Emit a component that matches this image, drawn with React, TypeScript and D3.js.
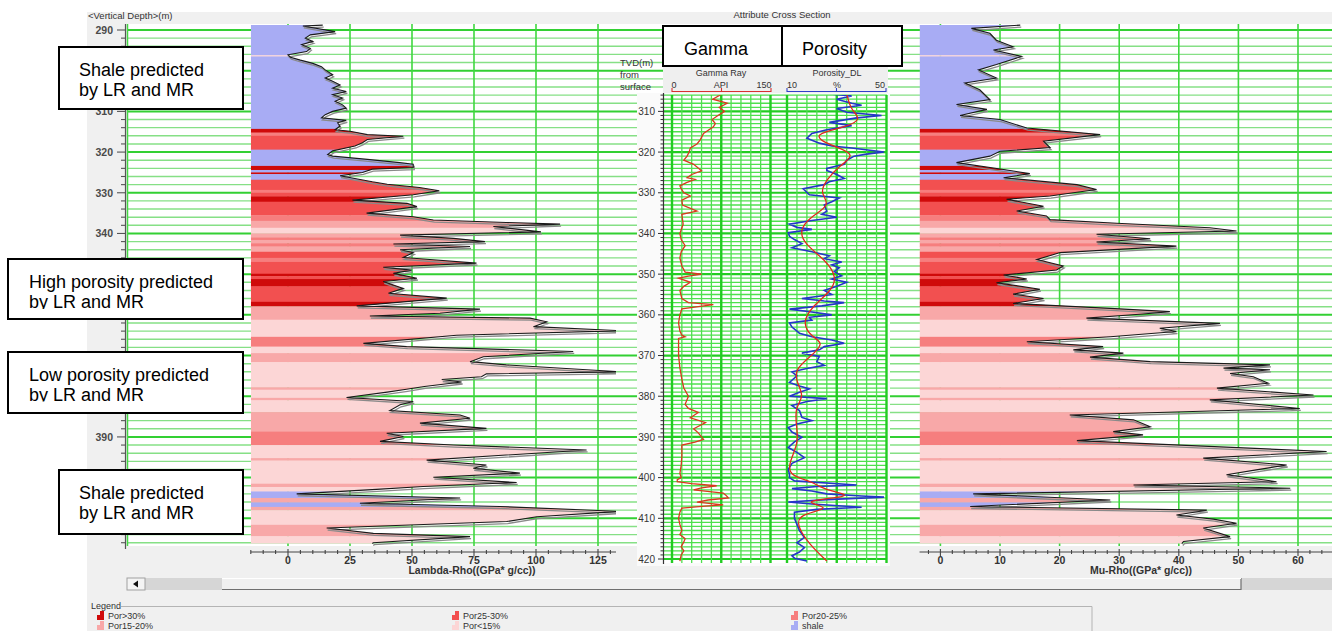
import React from "react";
import * as d3 from "d3";

// ---------------- data ----------------
const faciesNames = ["Por>30%", "Por25-30%", "Por20-25%", "Por15-20%", "Por<15%", "shale"];
const faciesColors = ["#cf0a0a", "#f25050", "#f67e7e", "#f8a8a8", "#fcd6d6", "#a8acf4"];

// [top depth, bottom depth, facies index]
const faciesBands: [number, number, number][] = [
  [288.5, 296.2, 5], [296.2, 296.5, 4], [296.5, 314.3, 5], [314.3, 315.2, 0], [315.2, 316.0, 2],
  [316.0, 319.4, 1], [319.4, 323.4, 5], [323.4, 324.4, 0], [324.4, 325.0, 5], [325.0, 325.4, 0],
  [325.4, 326.8, 5], [326.8, 329.3, 1], [329.3, 330.0, 2], [330.0, 330.9, 1], [330.9, 332.2, 0],
  [332.2, 335.5, 1], [335.5, 336.9, 2], [336.9, 338.6, 3], [338.6, 340.0, 4], [340.0, 341.0, 3],
  [341.0, 341.6, 2], [341.6, 342.4, 3], [342.4, 343.2, 2], [343.2, 344.5, 3], [344.5, 346.0, 1],
  [346.0, 347.0, 2], [347.0, 349.9, 1], [349.9, 350.5, 0], [350.5, 351.2, 1], [351.2, 353.0, 0],
  [353.0, 356.8, 1], [356.8, 357.9, 0], [357.9, 361.2, 3], [361.2, 365.4, 4], [365.4, 367.8, 2],
  [367.8, 369.4, 4], [369.4, 371.6, 3], [371.6, 377.8, 4], [377.8, 378.4, 3], [378.4, 380.4, 4],
  [380.4, 381.0, 3], [381.0, 383.9, 4], [383.9, 388.7, 3], [388.7, 392.0, 2], [392.0, 395.2, 4],
  [395.2, 395.8, 3], [395.8, 401.5, 4], [401.5, 402.3, 3], [402.3, 403.4, 4], [403.4, 405.0, 5],
  [405.0, 406.1, 3], [406.1, 407.2, 5], [407.2, 408.0, 3], [408.0, 411.6, 4], [411.6, 414.4, 3],
  [414.4, 416.5, 4],
];

// Lambda-Rho [depth m, GPa*g/cc]
const lambdaRho: [number, number][] = [
  [288.8, 14], [289, 6], [290.4, 19], [291.2, 9], [292, 7], [292.8, 10], [293.6, 5.5], [294.5, 9],
  [295.3, 7.5], [296.1, 0], [296.7, 1], [297.4, 5], [298.2, 10], [299, 13.5], [299.8, 15], [301, 18],
  [301.8, 15], [302.6, 18], [303.5, 21], [304.3, 18], [305.1, 23.5], [305.9, 18], [306.7, 22],
  [307.5, 19], [308.4, 22], [309.2, 23.5], [310, 18], [310.8, 15], [311.6, 13.5], [312.2, 23.5],
  [312.8, 20], [313.6, 21], [314.5, 19], [314.9, 25], [315.7, 32], [316.1, 46.5], [316.9, 32],
  [317.7, 30], [318.5, 27], [319.7, 18], [320.6, 16], [321, 18], [321.8, 32], [322.6, 45], [323, 50.5],
  [323.8, 50.5], [324.2, 34], [325, 30], [325.8, 21], [326.6, 28], [327.3, 34], [327.9, 40],
  [328.7, 53], [329.5, 61], [330.5, 50.5], [331.8, 26], [332.6, 48], [333.4, 52], [335, 31.7],
  [335.9, 50.5], [336.7, 58.6], [337.3, 88], [337.7, 109.7], [338.3, 82.8], [339.6, 102], [340.4, 45.2],
  [341.2, 66.7], [342, 79.4], [342.6, 42.5], [343.2, 73.4], [344, 45.2], [344.7, 50.5], [345.9, 46.5],
  [347.3, 76], [348.3, 38.4], [349, 49.8], [349.8, 42.5], [351, 52], [351.8, 38.4], [353.5, 46.5],
  [354.7, 40.5], [355.9, 64], [357.8, 27.7], [358.6, 77.4], [359.6, 61.3], [360.3, 33], [360.8, 97.6],
  [361.7, 104.3], [362.9, 99], [363.9, 134], [365, 68], [367, 30.4], [367.8, 47.8], [369, 115],
  [370.3, 78.8], [371.5, 73.4], [372.3, 88], [374, 134], [374.5, 80], [375.2, 78], [375.9, 62],
  [376.5, 70], [377.6, 55], [378.3, 47.8], [379, 40], [380.3, 23.6], [381.3, 50.5], [382.1, 45.2],
  [383.5, 41.1], [384.6, 69.4], [385.4, 73.4], [386.6, 53.2], [387.9, 80], [389.1, 39.8], [389.9, 46.5],
  [391.1, 37.1], [392, 66.7], [393.2, 120.4], [395.7, 55.9], [396.9, 80], [397.7, 74.7], [398.9, 93.5],
  [399.9, 58.6], [401.2, 92.2], [402.2, 54.5], [402.9, 35.7], [404, 3.5], [405, 69.4], [406.3, 29],
  [407.1, 85.5], [408.3, 134], [409.6, 100.3], [410.8, 88.2], [412.4, 15.6], [413.7, 34.4],
  [414.5, 73.4], [416, 34.4], [416.2, 34],
];

// Mu-Rho [depth m, GPa*g/cc]
const muRho: [number, number][] = [
  [288.8, 13.4], [289.6, 5.2], [290.8, 8.3], [292.5, 9.4], [294.1, 12.2], [294.9, 8.9], [296.5, 13.6],
  [298.5, 9.4], [299.8, 6.4], [301.8, 9.4], [303, 4.1], [304.7, 6.6], [307.1, 8.3], [308.3, 2.7],
  [309.5, 7.8], [311, 3.3], [312, 10], [314.1, 14.5], [315.7, 26.8], [317.3, 17.3], [318.9, 18.4],
  [319.8, 10], [321, 8.3], [322.6, 2.7], [324.3, 10.6], [325.3, 15], [326.3, 10.6], [328, 22.9],
  [329.2, 26.2], [330.8, 18.4], [331.6, 11.1], [333.3, 17.3], [334.5, 12.8], [335.7, 17.8],
  [336.6, 18.4], [337.5, 29.6], [338.6, 45.2], [339.4, 49.7], [340.2, 26.2], [341.3, 35.2],
  [342.1, 26.2], [343.1, 39.6], [344.7, 20.1], [346.4, 16.2], [348, 20.6], [349, 19.5], [350.2, 10.6],
  [351.2, 14.5], [352.1, 9.4], [353.7, 16.7], [354.9, 12.2], [356, 17.3], [357.2, 12.2], [358.4, 28.5],
  [359.2, 38.5], [359.8, 34], [360.8, 24.5], [362.1, 46.9], [363.3, 36.8], [364.1, 39.6], [365.4, 28.5],
  [366.6, 14.5], [367.8, 27.3], [368.6, 22.3], [369.4, 30.7], [370.4, 25.1], [371.5, 35.2],
  [372.3, 55.3], [373.1, 47.5], [373.5, 55.3], [374.4, 48.6], [375.2, 52.5], [376.8, 55], [378, 46.4],
  [379.7, 62.6], [380.9, 45.2], [383, 60.3], [384.6, 21.7], [385.8, 32.4], [387.5, 35.2], [388.7, 29],
  [389.5, 34], [390.9, 22.9], [393.6, 64.8], [395.2, 44.1], [396.9, 58.1], [398.1, 53], [399.3, 48],
  [401, 56.4], [401.8, 32.4], [402.6, 58.7], [404, 5.5], [405.5, 28.5], [407.1, 5], [408, 44.7],
  [409.2, 39.6], [410.2, 45.8], [411.2, 49.7], [412.4, 44.1], [414.5, 48.6], [415.7, 40.8], [416.2, 40.5],
];

// Gamma Ray [depth m, API]
const gammaRay: [number, number][] = [
  [305.5, 60], [306, 73], [307, 62], [308, 84], [309, 72], [310, 80], [311, 70], [312, 61], [313, 66],
  [313.8, 63], [315.4, 48], [317, 43], [318, 38], [319, 28], [320, 26], [321, 23], [322, 18], [323, 33],
  [324.6, 45], [325.5, 30], [326.3, 23], [326.7, 35], [327.5, 22], [328.3, 12], [329, 14], [330, 18],
  [330.8, 28], [331.8, 15], [333, 16], [334.5, 38], [335.3, 15], [336.5, 16], [337.7, 17], [340, 12],
  [341.5, 14], [343, 20], [344.5, 14], [346, 12], [348, 15], [349.5, 20], [350, 45], [350.5, 25],
  [351, 10], [352, 28], [353, 18], [354, 12], [356, 15], [357, 25], [357.5, 63], [358, 40], [358.5, 15],
  [360, 12], [362, 10], [364, 12], [365, 15], [365.4, 20], [365.8, 10], [367, 10], [370, 10], [373, 12],
  [375.8, 15], [378, 18], [380, 25], [382, 20], [383, 25], [384, 40], [385.3, 28], [386.5, 51], [388, 33],
  [389, 40], [390.6, 48], [391.3, 35], [392, 15], [394.7, 15], [397, 14], [399, 12], [400, 14],
  [400.5, 8], [401, 8], [401.5, 30], [402, 68], [402.5, 45], [403, 33], [403.8, 78], [404.3, 82],
  [405, 86], [405.5, 55], [406, 38], [406.7, 78], [407, 50], [407.5, 15], [408.5, 12], [410, 10],
  [411.5, 12], [413, 15], [414, 12], [415, 20], [415.8, 18], [417, 14], [418, 18], [419, 14], [420.5, 12],
];

// Porosity_DL raw [depth m, %]
const porosityDL: [number, number][] = [
  [305.7, 27], [306.2, 36], [307, 30], [308, 36], [308.5, 40], [309.3, 30], [310.2, 34], [311, 48],
  [311.6, 38], [312.7, 27], [313.5, 36], [314.5, 26], [315.4, 20], [316.6, 18], [317.8, 23], [318.5, 28],
  [319, 36], [320, 49], [320.5, 42], [321, 37], [322, 34], [323, 33], [324, 26], [324.5, 26], [325.5, 30],
  [326.5, 33], [327.3, 27], [328, 25], [329, 16.5], [330.5, 19], [331.3, 31], [332.2, 28], [333, 25],
  [334.5, 26], [335.3, 24], [336, 30], [336.8, 20], [337.7, 11], [338.5, 14], [339, 20], [339.8, 10.5],
  [340.7, 11], [341.5, 13], [342.5, 16], [343.5, 12], [344.5, 20], [345.5, 27], [346.2, 25], [347, 32],
  [347.7, 28], [348.4, 31], [349.4, 29], [350.4, 32], [351.2, 28], [352, 34], [353, 30], [354, 25],
  [355, 28], [356, 16], [356.6, 25], [357, 33], [357.8, 24], [358.6, 11], [359.3, 20], [360, 28],
  [360.6, 19], [361.3, 20], [362, 11], [363, 12], [364, 14], [364.5, 15], [365.4, 20], [366.2, 28],
  [367, 33], [367.8, 25], [368.6, 23], [369.4, 16], [370.2, 23], [371.5, 22], [372.4, 25], [373.2, 18],
  [374, 12], [375, 14], [376.6, 11], [377.5, 15], [378.2, 19], [379, 15], [380, 11], [380.6, 26],
  [381.3, 18], [382.3, 12], [383.5, 15], [385.2, 16], [386, 20], [386.8, 14], [387.7, 10.5], [388.8, 12],
  [390.1, 16], [391.2, 13], [392.6, 10.5], [393.8, 14], [395.1, 17], [396.5, 12], [398, 10.5],
  [399.2, 11], [400, 11], [400.8, 13], [401.8, 38], [402.2, 22], [402.7, 12], [403.3, 20], [404, 26],
  [404.5, 40], [404.8, 49], [405.4, 26], [406, 10.5], [406.5, 20], [407.3, 40], [407.8, 22], [408.5, 13],
  [410, 13], [411.5, 14], [413, 15], [414.7, 17], [416, 14], [417.2, 17], [418.3, 15], [419.2, 12],
  [419.8, 13], [420.5, 18],
];

// Porosity smoothed [depth m, %]
const porositySmooth: [number, number][] = [
  [305.7, 34], [308, 35], [309.6, 36], [312, 40], [313.8, 34], [315.4, 22], [317, 23], [318.6, 29],
  [320.6, 38], [323.4, 31], [326.7, 26], [330, 23], [333, 28], [336, 19], [339.3, 15], [342.6, 17],
  [346.8, 26], [350.8, 30], [354, 28], [358, 20], [362, 16], [365.5, 20], [366.9, 25], [370, 20],
  [373.4, 13], [376.8, 14], [380, 17], [383, 13], [387.9, 14], [391.6, 14.5], [396.1, 11], [399.4, 10.5],
  [401, 20], [402.2, 23], [403.4, 28], [404.6, 38], [405.8, 13], [407.4, 30], [409, 14], [412.3, 14.5],
  [416.4, 19], [420.5, 26],
];

// depth labels that are not hidden under the annotation boxes in the reference
const depthLabels = [290, 310, 320, 330, 340, 390];
const depthTickMarks = [290, 300, 310, 320, 330, 340, 350, 360, 370, 380, 390, 400, 410];
const logDepthLabels = [310, 320, 330, 340, 350, 360, 370, 380, 390, 400, 410, 420];
const lrTicks = [0, 25, 50, 75, 100, 125];
const mrTicks = [0, 10, 20, 30, 40, 50, 60];

const annotationTexts = [
  ["Shale predicted", "by LR and MR"],
  ["High porosity predicted", "by LR and MR"],
  ["Low porosity predicted", "by LR and MR"],
  ["Shale predicted", "by LR and MR"],
];
const annotationBoxes = [
  { x: 59, y: 47, w: 184, h: 62, tx: 79, clip: 200 },
  { x: 8, y: 259, w: 235, h: 60, tx: 29, clip: 50 },
  { x: 8, y: 352, w: 235, h: 61, tx: 29, clip: 49.5 },
  { x: 59, y: 470, w: 184, h: 64, tx: 79, clip: 200 },
];

const FONT = "'Liberation Sans', Arial, sans-serif";

export default function App() {
  const y = d3.scaleLinear().domain([290, 420]).range([30, 559]);
  const xLR = d3.scaleLinear().domain([0, 125]).range([288, 598]);
  const xMR = d3.scaleLinear().domain([0, 60]).range([940.4, 1298]);
  const xGR = d3.scaleLinear().domain([0, 150]).range([672, 770.5]);
  const xPor = d3.scaleLinear().domain([10, 50]).range([787, 886.5]);

  const plotTop = 24;
  const plotBottom = 546;
  const lrLeft = xLR(-15);
  const lrRight = 616;
  const mrLeft = xMR(-3.5);
  const mrRight = 1332;

  const areaLR = d3.area<[number, number]>().y((d) => y(d[0])).x0(lrLeft).x1((d) => xLR(d[1]));
  const areaMR = d3.area<[number, number]>().y((d) => y(d[0])).x0(mrLeft).x1((d) => xMR(d[1]));
  const lineLR = d3.line<[number, number]>().y((d) => y(d[0])).x((d) => xLR(d[1]));
  const lineMR = d3.line<[number, number]>().y((d) => y(d[0])).x((d) => xMR(d[1]));
  const lineGR = d3.line<[number, number]>().y((d) => y(d[0])).x((d) => xGR(d[1]));
  const linePor = d3.line<[number, number]>().y((d) => y(d[0])).x((d) => xPor(d[1]));
  const linePorSmooth = d3
    .line<[number, number]>()
    .y((d) => y(d[0]))
    .x((d) => xPor(d[1]))
    .curve(d3.curveBasis);

  const sideGrid = d3.range(290, 417, 2);
  const logTop = 95;
  const logBottom = 563;
  const logGrid = d3.range(306, 421, 1);
  const grTicks = d3.range(0, 151, 15);
  const porTicks = d3.range(10, 51, 4);

  const bands = (x0: number, x1: number) =>
    faciesBands.map(([t, b, c], i) => (
      <rect
        key={i}
        x={x0}
        width={x1 - x0}
        y={y(t)}
        height={y(b) - y(t) + 0.4}
        fill={faciesColors[c]}
      />
    ));

  const legendCols = [97, 452, 791];
  const legendRows = [611, 621];

  return (
    <svg
      width={1332}
      height={631}
      style={{ position: "absolute", left: 0, top: 0, display: "block" }}
      fontFamily={FONT}
    >
      <defs>
        <clipPath id="lrFill">
          <path d={areaLR(lambdaRho) || ""} />
        </clipPath>
        <clipPath id="mrFill">
          <path d={areaMR(muRho) || ""} />
        </clipPath>
        <clipPath id="lrPanel">
          <rect x={lrLeft - 1} y={plotTop} width={lrRight - lrLeft + 1} height={plotBottom - plotTop} />
        </clipPath>
        <clipPath id="mrPanel">
          <rect x={mrLeft - 1} y={plotTop} width={mrRight - mrLeft + 1} height={plotBottom - plotTop} />
        </clipPath>
        <clipPath id="logPlot">
          <rect x={664} y={logTop} width={223} height={logBottom - logTop} />
        </clipPath>
        {annotationBoxes.map((b, i) => (
          <clipPath id={`annClip${i}`} key={i}>
            <rect x={b.x} y={b.y} width={b.w} height={Math.min(b.h, b.clip)} />
          </clipPath>
        ))}
      </defs>

      {/* backgrounds */}
      <rect x={0} y={0} width={1332} height={631} fill="#ffffff" />
      <rect x={87} y={12} width={1245} height={619} fill="#f0f0f0" />
      <rect x={127} y={plotTop} width={1205} height={plotBottom - plotTop} fill="#ffffff" />

      {/* side grid */}
      {sideGrid.map((d) => (
        <line
          key={d}
          x1={127}
          x2={1332}
          y1={y(d)}
          y2={y(d)}
          stroke={d % 10 === 0 ? "#33d033" : "#86e086"}
          strokeWidth={d % 10 === 0 ? 2 : 1.4}
        />
      ))}
      <line x1={127.5} x2={127.5} y1={plotTop} y2={plotBottom} stroke="#44d844" strokeWidth={1.5} />
      {lrTicks.map((v) => (
        <line key={v} x1={xLR(v)} x2={xLR(v)} y1={plotTop} y2={plotBottom} stroke="#3fd83f" strokeWidth={1.6} />
      ))}
      {mrTicks.map((v) => (
        <line key={v} x1={xMR(v)} x2={xMR(v)} y1={plotTop} y2={plotBottom} stroke="#3fd83f" strokeWidth={1.6} />
      ))}

      {/* Lambda-Rho fill */}
      <g clipPath="url(#lrFill)">{bands(lrLeft, lrRight)}</g>
      <g clipPath="url(#lrPanel)">
        <path d={lineLR(lambdaRho) || ""} fill="none" stroke="#8a8a8a" strokeWidth={1.3} transform="translate(1,2)" />
        <path d={lineLR(lambdaRho) || ""} fill="none" stroke="#1a1a1a" strokeWidth={1.1} />
      </g>

      {/* Mu-Rho fill */}
      <g clipPath="url(#mrFill)">{bands(mrLeft, mrRight)}</g>
      <g clipPath="url(#mrPanel)">
        <path d={lineMR(muRho) || ""} fill="none" stroke="#8a8a8a" strokeWidth={1.3} transform="translate(1,2)" />
        <path d={lineMR(muRho) || ""} fill="none" stroke="#1a1a1a" strokeWidth={1.1} />
      </g>

      {/* middle log image */}
      <rect x={637} y={93} width={253} height={473} fill="#fafafa" />
      <rect x={663} y={66} width={225} height={27} fill="#efefef" />
      <rect x={664} y={logTop} width={223} height={logBottom - logTop} fill="#ffffff" />
      {logGrid.map((d) => (
        <line
          key={d}
          x1={664}
          x2={887}
          y1={y(d)}
          y2={y(d)}
          stroke={d % 10 === 0 ? "#22cc22" : "#4ee04e"}
          strokeWidth={d % 10 === 0 ? 2.2 : 1.3}
        />
      ))}
      {grTicks.map((v) => (
        <line
          key={`g${v}`}
          x1={xGR(v)}
          x2={xGR(v)}
          y1={logTop}
          y2={logBottom}
          stroke={v % 75 === 0 ? "#22cc22" : "#4ee04e"}
          strokeWidth={v % 75 === 0 ? 2.4 : 1.3}
        />
      ))}
      {porTicks.map((v) => (
        <line
          key={`p${v}`}
          x1={xPor(v)}
          x2={xPor(v)}
          y1={logTop}
          y2={logBottom}
          stroke={(v - 10) % 20 === 0 ? "#22cc22" : "#4ee04e"}
          strokeWidth={(v - 10) % 20 === 0 ? 2.4 : 1.3}
        />
      ))}
      <g clipPath="url(#logPlot)">
        <path d={lineGR(gammaRay) || ""} fill="none" stroke="#d9381e" strokeWidth={1.3} />
        <path d={linePor(porosityDL) || ""} fill="none" stroke="#2436c8" strokeWidth={1.6} />
        <path d={linePorSmooth(porositySmooth) || ""} fill="none" stroke="#e0281e" strokeWidth={1.3} />
      </g>
      {/* log depth axis */}
      <line x1={663.5} x2={663.5} y1={logTop - 2} y2={logBottom + 1} stroke="#333" strokeWidth={1.2} />
      {logGrid.map((d) => (
        <line
          key={`lt${d}`}
          x1={d % 10 === 0 ? 658 : 660.5}
          x2={663.5}
          y1={y(d)}
          y2={y(d)}
          stroke="#333"
          strokeWidth={1}
        />
      ))}
      {logDepthLabels.map((d) => (
        <text key={`ll${d}`} x={655} y={y(d) + 3.6} fontSize={10} fill="#333" textAnchor="end">
          {d}
        </text>
      ))}
      {/* log header */}
      <text x={620} y={66} fontSize={9.5} fill="#333">TVD(m)</text>
      <text x={620} y={78} fontSize={9.5} fill="#333">from</text>
      <text x={620} y={90} fontSize={9.5} fill="#333">surface</text>
      <text x={721} y={76} fontSize={9} fill="#333" textAnchor="middle">Gamma Ray</text>
      <text x={674} y={88} fontSize={9} fill="#333" textAnchor="middle">0</text>
      <text x={721} y={88} fontSize={9} fill="#333" textAnchor="middle">API</text>
      <text x={764} y={88} fontSize={9} fill="#333" textAnchor="middle">150</text>
      <path d="M672,88 V91.5 H771 V88 M721.5,88 V91.5" fill="none" stroke="#d83030" strokeWidth={1.1} />
      <text x={837} y={76} fontSize={9} fill="#333" textAnchor="middle">Porosity_DL</text>
      <text x={792} y={88} fontSize={9} fill="#333" textAnchor="middle">10</text>
      <text x={837} y={88} fontSize={9} fill="#333" textAnchor="middle">%</text>
      <text x={880} y={88} fontSize={9} fill="#333" textAnchor="middle">50</text>
      <path d="M787,88 V91.5 H886 V88 M836.5,88 V91.5" fill="none" stroke="#3040c8" strokeWidth={1.1} />

      {/* Gamma / Porosity boxes */}
      <rect x={663} y={26} width={239} height={40} fill="#ffffff" stroke="#000" strokeWidth={2} />
      <line x1={782} x2={782} y1={26} y2={66} stroke="#000" strokeWidth={2} />
      <text x={684} y={55} fontSize={18} fill="#000">Gamma</text>
      <text x={802} y={55} fontSize={18} fill="#000">Porosity</text>

      {/* left depth axis */}
      <line x1={125.5} x2={125.5} y1={plotTop} y2={549} stroke="#555" strokeWidth={1.2} />
      {sideGrid.map((d) => (
        <line
          key={`dt${d}`}
          x1={depthTickMarks.includes(d) ? 117 : 121}
          x2={125.5}
          y1={y(d)}
          y2={y(d)}
          stroke="#555"
          strokeWidth={1.1}
        />
      ))}
      {depthLabels.map((d) => (
        <text
          key={`dl${d}`}
          x={113}
          y={y(d) + 3.8}
          fontSize={10.5}
          fontWeight="bold"
          fill="#4a4a4a"
          textAnchor="end"
        >
          {d}
        </text>
      ))}

      {/* bottom axes */}
      <line x1={lrLeft} x2={lrRight} y1={552} y2={552} stroke="#444" strokeWidth={1.2} />
      {d3.range(-15, 131, 5).map((v) => (
        <line
          key={`lrt${v}`}
          x1={xLR(v)}
          x2={xLR(v)}
          y1={v % 25 === 0 ? 549 : 550}
          y2={v % 25 === 0 ? 556 : 554}
          stroke="#444"
          strokeWidth={1.1}
        />
      ))}
      {lrTicks.map((v) => (
        <text key={`lrl${v}`} x={xLR(v)} y={564} fontSize={10.5} fontWeight="bold" fill="#333" textAnchor="middle">
          {v}
        </text>
      ))}
      <text x={472} y={574} fontSize={10.5} fontWeight="bold" fill="#333" textAnchor="middle">
        Lambda-Rho((GPa* g/cc))
      </text>

      <line x1={mrLeft} x2={mrRight} y1={552} y2={552} stroke="#444" strokeWidth={1.2} />
      {d3.range(-2, 65, 2).map((v) => (
        <line
          key={`mrt${v}`}
          x1={xMR(v)}
          x2={xMR(v)}
          y1={v % 10 === 0 ? 549 : 550}
          y2={v % 10 === 0 ? 556 : 554}
          stroke="#444"
          strokeWidth={1.1}
        />
      ))}
      {mrTicks.map((v) => (
        <text key={`mrl${v}`} x={xMR(v)} y={564} fontSize={10.5} fontWeight="bold" fill="#333" textAnchor="middle">
          {v}
        </text>
      ))}
      <text x={1141} y={574} fontSize={10.5} fontWeight="bold" fill="#333" textAnchor="middle">
        Mu-Rho((GPa* g/cc))
      </text>

      {/* scrollbar */}
      <rect x={145} y={578} width={1187} height={12} fill="#d6d6d6" />
      <rect x={127} y={578} width={18} height={12} fill="#f4f4f4" stroke="#a0a0a0" strokeWidth={1} />
      <path d="M133,584 L138,580.5 L138,587.5 Z" fill="#111" />
      <rect x={222} y={578} width={1019} height={11} fill="#f0f0f0" />
      <line x1={222} x2={1241} y1={589.5} y2={589.5} stroke="#6f6f6f" strokeWidth={1.2} />
      <line x1={1241} x2={1241} y1={578} y2={590} stroke="#6f6f6f" strokeWidth={1.2} />
      <line x1={222} x2={1241} y1={578.5} y2={578.5} stroke="#ffffff" strokeWidth={1} />

      {/* legend */}
      <text x={91} y={609} fontSize={9} fill="#333">Legend</text>
      <line x1={121} x2={1092} y1={606.5} y2={606.5} stroke="#b4b4b4" strokeWidth={1} />
      <line x1={1092} x2={1092} y1={606.5} y2={631} stroke="#b4b4b4" strokeWidth={1} />
      {faciesNames.map((name, i) => {
        const cx = legendCols[i % 3];
        const cy = legendRows[Math.floor(i / 3)];
        return (
          <g key={name}>
            <path
              d={`M${cx},${cy + 9} V${cy + 4} H${cx + 3} V${cy} H${cx + 7} V${cy + 9} Z`}
              fill={faciesColors[i]}
            />
            <text x={cx + 11} y={cy + 8} fontSize={9} fill="#333">
              {name}
            </text>
          </g>
        );
      })}

      {/* top titles */}
      <text x={88} y={18.5} fontSize={9.5} fill="#333">{"<Vertical Depth>(m)"}</text>
      <text x={782} y={18} fontSize={9.5} fill="#333" textAnchor="middle">Attribute Cross Section</text>

      {/* annotation boxes */}
      {annotationBoxes.map((b, i) => (
        <g key={`ann${i}`}>
          <rect x={b.x} y={b.y} width={b.w} height={b.h} fill="#ffffff" stroke="#000" strokeWidth={2} />
          <g clipPath={`url(#annClip${i})`}>
            <text x={b.tx} y={b.y + 28.5} fontSize={18} fill="#000">
              {annotationTexts[i][0]}
            </text>
            <text x={b.tx} y={b.y + 49.3} fontSize={18} fill="#000">
              {annotationTexts[i][1]}
            </text>
          </g>
        </g>
      ))}
    </svg>
  );
}
